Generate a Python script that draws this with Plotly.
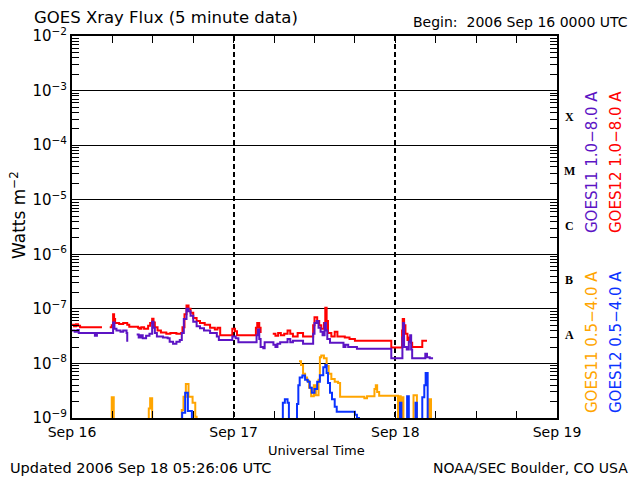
import plotly.graph_objects as go
from datetime import datetime, timedelta

BASE = datetime(2006, 9, 16)
LOW = 5e-10  # below plot floor (off-scale)

# GOES12 1.0-8.0 A (red)
g12_long_h = [0.0, 0.3, 0.6, 0.9, 1.2, 4.3, 4.35, 5.6, 5.9, 6.1, 6.25, 6.4, 7.0, 7.6, 8.2, 8.5, 9.8, 10.0, 10.3,
              10.7, 11.3, 11.6, 11.9, 12.1, 12.3, 12.7, 13.2, 14.0, 14.6, 15.5, 16.2, 16.4, 16.7, 17.0, 17.3, 17.6,
              18.0, 18.5, 19.0, 19.7, 20.5, 21.2, 21.6, 22.0, 23.8, 24.2, 24.5, 27.3, 27.5, 27.8, 28.0, 28.3, 29.8,
              30.2, 30.6, 31.0, 31.5, 32.0, 32.4, 32.8, 33.5, 34.3, 35.8, 36.0, 36.4, 36.7, 37.0, 37.4, 37.6, 37.8,
              38.0, 38.5, 39.0, 39.4, 40.5, 41.2, 42.0, 47.4, 49.0, 49.1, 49.3, 49.5, 49.8, 50.1, 50.3, 50.5, 52.0,
              52.7]
g12_long_f = [5.1e-8, 4.8e-8, 5.2e-8, 4.9e-8, 4.6e-8, 4.4e-8, None, 4.6e-8, 5.0e-8, 8.0e-8, 6.5e-8, 5.5e-8, 5.3e-8,
              5.5e-8, 5.1e-8, 4.7e-8, 4.5e-8, 4.3e-8, 4.6e-8, 4.3e-8, 4.9e-8, 5.5e-8, 6.6e-8, 5.6e-8, 4.6e-8, 4.0e-8,
              3.7e-8, 3.5e-8, 3.6e-8, 3.5e-8, 3.6e-8, 4.6e-8, 8.0e-8, 1.15e-7, 1.0e-7, 8.5e-8, 6.8e-8, 6.0e-8, 5.5e-8,
              5.1e-8, 4.5e-8, 4.2e-8, 4.5e-8, 3.3e-8, 4.3e-8, 3.9e-8, 3.3e-8, 4.5e-8, 5.5e-8, 4.5e-8, 3.6e-8, None,
              3.5e-8, 3.2e-8, 3.6e-8, 3.3e-8, 3.5e-8, 4.0e-8, 3.5e-8, 3.1e-8, 3.6e-8, 3.1e-8, 5.0e-8, 7.0e-8, 6.0e-8,
              5.0e-8, 4.3e-8, 5.5e-8, 1.05e-7, 6.0e-8, 3.6e-8, 3.1e-8, 3.8e-8, 3.1e-8, 3.0e-8, 2.8e-8, 2.6e-8,
              1.95e-8, 4.0e-8, 6.5e-8, 5.0e-8, 3.5e-8, 2.7e-8, 3.0e-8, 2.4e-8, 2.0e-8, 2.6e-8, 2.6e-8]

# GOES11 1.0-8.0 A (purple)
g11_long_h = [0.0, 0.4, 0.8, 1.0, 3.4, 3.7, 6.1, 6.3, 6.6, 7.2, 7.6, 8.1, 8.2, 8.4, 9.6, 9.9, 10.2, 10.5, 11.0, 11.5,
              11.9, 12.1, 12.3, 12.6, 13.5, 14.2, 14.5, 15.0, 15.5, 16.0, 16.3, 16.6, 17.0, 17.3, 17.6, 18.0, 18.5,
              19.0, 19.6, 20.5, 21.5, 21.8, 23.8, 24.3, 24.7, 27.4, 27.6, 27.8, 28.0, 28.4, 28.6, 29.9, 30.2, 30.5,
              30.9, 32.0, 32.4, 32.8, 34.3, 35.8, 36.0, 36.3, 36.6, 36.9, 37.2, 37.5, 37.7, 37.9, 38.3, 40.3, 40.6,
              41.0, 42.3, 47.4, 49.05, 49.15, 49.3, 49.7, 50.0, 50.2, 50.35, 50.5, 52.45, 52.7, 53.1, 53.6]
g11_long_f = [4.0e-8, 3.8e-8, 4.1e-8, 3.6e-8, 3.2e-8, 3.6e-8, 5.6e-8, 4.3e-8, 4.0e-8, 3.8e-8, 4.0e-8, 3.6e-8, 2.5e-8,
              None, 3.4e-8, 3.0e-8, 3.3e-8, 2.9e-8, 3.2e-8, 3.5e-8, 5.8e-8, 4.5e-8, 3.6e-8, 3.1e-8, 3.0e-8, 2.9e-8,
              2.5e-8, 2.3e-8, 2.5e-8, 2.7e-8, 3.6e-8, 6.5e-8, 1.0e-7, 9.0e-8, 7.5e-8, 5.8e-8, 4.8e-8, 4.4e-8, 4.0e-8,
              3.6e-8, 3.1e-8, 2.7e-8, 3.1e-8, 2.9e-8, 2.45e-8, 3.3e-8, 4.2e-8, 2.8e-8, 2.0e-8, 1.9e-8, 2.45e-8,
              2.2e-8, 2.0e-8, 2.3e-8, 2.45e-8, 2.8e-8, 2.45e-8, 2.6e-8, 2.3e-8, 3.5e-8, 5.5e-8, 6.0e-8, 4.5e-8,
              3.8e-8, 3.3e-8, 5.5e-8, 4.0e-8, 2.8e-8, 2.4e-8, 2.0e-8, 2.2e-8, 2.0e-8, 1.85e-8, 1.25e-8, 3.0e-8,
              5.5e-8, 2.0e-8, 1.8e-8, 2.5e-8, 3.3e-8, 1.8e-8, 1.25e-8, 1.5e-8, 1.3e-8, 1.25e-8, 1.25e-8]

# GOES11 0.5-4.0 A (orange)
g11_short_h = [0.0, 5.9, 6.2, 11.4, 11.6, 11.9, 16.3, 16.55, 16.9, 17.3, 17.9, 18.3, 18.5, 33.6, 33.7, 34.0, 34.3,
               34.6, 34.9, 35.2, 35.5, 35.9, 36.2, 36.6, 36.8, 37.0, 37.4, 37.8, 38.1, 38.5, 39.0, 39.5, 39.8, 43.4,
               43.8, 44.9, 45.1, 45.3, 45.6, 48.4, 48.55, 48.8, 49.0, 49.2, 50.7, 51.2, 53.0, 53.3]
g11_short_f = [LOW, 2.4e-9, LOW, 1.5e-9, 2.3e-9, LOW, 1.4e-9, 2.45e-9, 4.2e-9, 2.45e-9, 1.9e-9, 1.05e-9, LOW, None,
               1.1e-8, 9.4e-9, 6.5e-9, 5.5e-9, 4.8e-9, 3.6e-9, 2.5e-9, 4.0e-9, 2.6e-9, 5.0e-9, 1.3e-8, 1.4e-8,
               1.25e-8, 9.0e-9, 6.5e-9, 5.2e-9, 4.6e-9, 4.4e-9, 2.45e-9, 2.3e-9, 2.5e-9, 3.4e-9, 4.0e-9, 3.0e-9,
               2.55e-9, LOW, 2.5e-9, LOW, 2.4e-9, LOW, 2.6e-9, LOW, 2.2e-9, LOW]

# GOES12 0.5-4.0 A (blue)
g12_short_h = [0.0, 16.35, 16.8, 17.2, 17.8, 31.3, 31.6, 32.0, 32.2, 33.4, 33.6, 33.8, 34.2, 34.6, 35.0, 35.3, 35.6,
               36.0, 36.4, 36.8, 37.3, 37.6, 37.8, 38.0, 38.3, 38.6, 39.0, 39.3, 42.0, 42.3, 42.6, 48.7, 48.9, 49.75,
               50.0, 51.0, 51.2, 52.0, 52.3, 52.5, 52.8]
g12_short_f = [LOW, 1.25e-9, 2.9e-9, 1.35e-9, LOW, 1.9e-9, 2.2e-9, 1.9e-9, LOW, 1.8e-9, 4.0e-9, 5.5e-9, 6.0e-9,
               5.0e-9, 4.6e-9, 3.6e-9, 2.9e-9, 3.4e-9, 4.6e-9, 6.1e-9, 8.5e-9, 9.4e-9, 6.7e-9, 4.4e-9, 2.9e-9,
               2.2e-9, 1.6e-9, 1.3e-9, 1.15e-9, 1.0e-9, LOW, 1.9e-9, LOW, 2.5e-9, LOW, 1.9e-9, LOW, 2.4e-9, 4.0e-9,
               6.7e-9, LOW]

day_ticks = ["Sep 16", "Sep 17", "Sep 18", "Sep 19"]
decade_exps = [-9, -8, -7, -6, -5, -4, -3, -2]
class_letters = ["A", "B", "C", "M", "X"]

PURPLE = "#5c14c4"
RED = "#ff0000"
ORANGE = "#ffa500"
BLUE = "#0a32ff"
FONT = "DejaVu Sans"

# plot area in screen pixels; the page body adds an 8px offset, compensated in margins/size
PL, PR, PT, PB = 72, 557, 36, 418
OFF = 8
W, H = 640 - OFF, 480 - OFF
RIGHT_EDGE = 630  # visible right limit for right-aligned texts


def to_time(hours):
    return [BASE + timedelta(hours=h) for h in hours]


def px(x):
    return (x - PL) / (PR - PL)


def py(y):
    return (PB - y) / (PB - PT)


fig = go.Figure()
series = [
    (g11_short_h, g11_short_f, ORANGE),
    (g12_short_h, g12_short_f, BLUE),
    (g12_long_h, g12_long_f, RED),
    (g11_long_h, g11_long_f, PURPLE),
]
for hh, ff, col in series:
    fig.add_trace(go.Scatter(x=to_time(hh), y=ff, mode="lines", line=dict(color=col, width=2, shape="hv"),
                             connectgaps=False, showlegend=False, hoverinfo="skip"))

decade_vals = [10.0 ** e for e in decade_exps]
minor_vals = [m * 10.0 ** e for e in decade_exps[:-1] for m in range(2, 10)]
tick_text = ["10<sup>\u2212%d</sup>" % (-e) for e in decade_exps]

day_vals = [BASE + timedelta(days=i) for i in range(4)]
six_hour_vals = [BASE + timedelta(hours=6 * i) for i in range(13)]

fig.update_layout(
    width=W, height=H,
    margin=dict(l=PL - OFF, r=W - (PR - OFF), t=PT - OFF, b=H - (PB - OFF), autoexpand=False),
    paper_bgcolor="white", plot_bgcolor="white",
    font=dict(family=FONT, color="black", size=13),
    xaxis=dict(
        type="date", range=[day_vals[0], day_vals[-1]],
        tickmode="array", tickvals=day_vals, ticktext=day_ticks,
        ticks="inside", ticklen=7, tickwidth=1, tickcolor="black",
        minor=dict(tickmode="array", tickvals=six_hour_vals, ticks="inside", ticklen=7, tickwidth=1,
                   tickcolor="black", showgrid=False),
        showgrid=True, gridcolor="black", gridwidth=2, griddash="5px,3px",
        showline=True, linecolor="black", linewidth=2, mirror="allticks",
        tickfont=dict(size=14), zeroline=False,
    ),
    yaxis=dict(
        type="log", range=[-9, -2],
        tickmode="array", tickvals=decade_vals, ticktext=tick_text,
        ticks="inside", ticklen=7, tickcolor="black",
        minor=dict(tickmode="array", tickvals=minor_vals, ticks="inside", ticklen=7, tickwidth=1,
                   tickcolor="black", showgrid=False),
        showgrid=True, gridcolor="black", gridwidth=1,
        showline=True, linecolor="black", linewidth=2, mirror="allticks",
        tickfont=dict(size=15), zeroline=False,
    ),
)

ann = [
    dict(text="GOES Xray Flux (5 minute data)", x=px(32), y=py(17.5), xanchor="left", yanchor="middle",
         font=dict(size=16.5)),
    dict(text="Begin:  2006 Sep 16 0000 UTC", x=px(RIGHT_EDGE), y=py(22), xanchor="right", yanchor="middle",
         font=dict(size=14)),
    dict(text="Universal Time", x=px(316), y=py(450), xanchor="center", yanchor="middle",
         font=dict(size=13)),
    dict(text="Updated 2006 Sep 18 05:26:06 UTC", x=px(8), y=py(468), xanchor="left", yanchor="middle",
         font=dict(size=14.5)),
    dict(text="NOAA/SEC Boulder, CO USA", x=px(RIGHT_EDGE), y=py(468), xanchor="right", yanchor="middle",
         font=dict(size=14)),
    dict(text="Watts m<sup>\u22122</sup>", x=px(18), y=py(215), textangle=-90, xanchor="center",
         yanchor="middle", font=dict(size=17)),
]
for a in ann:
    a.update(xref="paper", yref="paper", showarrow=False)

# class letters at mid-decade, right of plot
for i, letter in enumerate(class_letters):
    ann.append(dict(text="<b>%s</b>" % letter, x=px(569), xref="paper", y=-7.48 + i, yref="y",
                    xanchor="center", yanchor="middle", showarrow=False,
                    font=dict(family="Liberation Serif", size=12, color="black")))

legend_items = [
    ("GOES11 1.0\u22128.0 A", PURPLE, 592, 162),
    ("GOES12 1.0\u22128.0 A", RED, 616, 162),
    ("GOES11 0.5\u22124.0 A", ORANGE, 592, 342),
    ("GOES12 0.5\u22124.0 A", BLUE, 616, 342),
]
for txt, col, lx, ly in legend_items:
    ann.append(dict(text=txt, x=px(lx), xref="paper", y=py(ly), yref="paper",
                    textangle=-90, xanchor="center", yanchor="middle", showarrow=False,
                    font=dict(size=15, color=col)))

fig.update_layout(annotations=ann)
fig.write_html("out.html")
